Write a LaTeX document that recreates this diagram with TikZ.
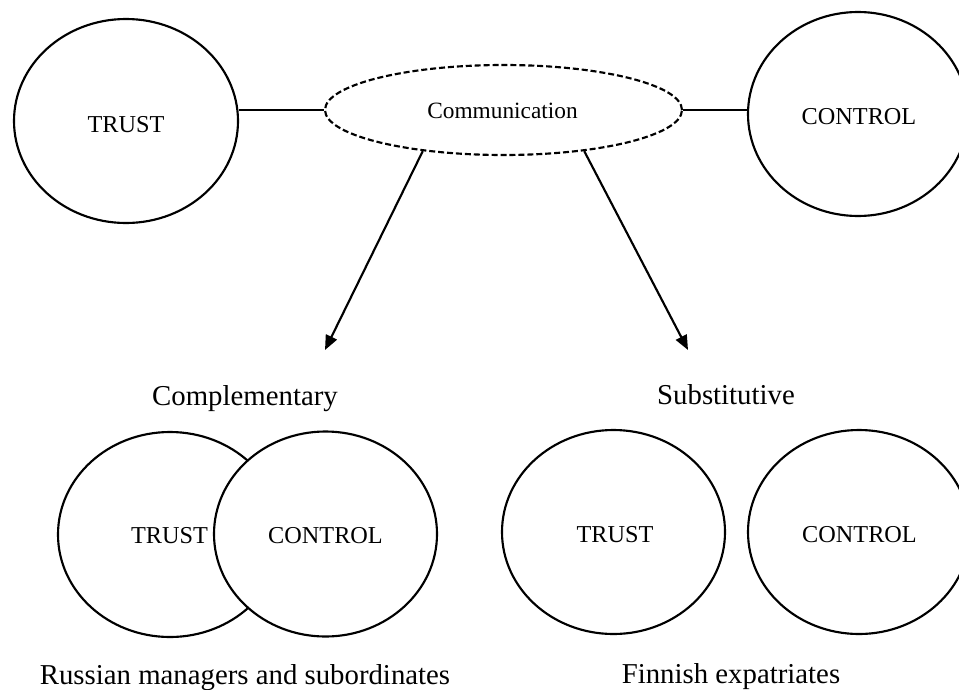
\documentclass[tikz,border=0pt]{standalone}
\usepackage{fontspec}
\setmainfont{Liberation Serif}
\usetikzlibrary{shapes.geometric,arrows.meta}
\begin{document}
\begin{tikzpicture}[x=0.75pt,y=-0.75pt,
  oval/.style={draw=black,ellipse,line width=1.6pt,inner sep=0pt,fill=white},
  lbl/.style={anchor=base,inner sep=0pt,font=\fontsize{18.2pt}{22pt}\selectfont},
  head/.style={anchor=base,inner sep=0pt,font=\fontsize{21.6pt}{26pt}\selectfont},
  link/.style={line width=1.6pt},
  arr/.style={line width=1.6pt,-{Triangle[length=11pt,width=9pt]}}]
\useasboundingbox (0,0) rectangle (959,689);
% top row
\node[oval,minimum width=168pt,minimum height=153pt] (t1) at (126,121) {};
\node[oval,minimum width=165pt,minimum height=153pt] (c1) at (858,114) {};
\node[oval,dash pattern=on 4.5pt off 2.2pt,minimum width=267.75pt,minimum height=67.5pt] (comm) at (503.5,110) {};
\node[lbl] (t1l) at (126,132) {TRUST};
\node[lbl] (c1l) at (859,124) {CONTROL};
\node[anchor=base,inner sep=0pt,font=\fontsize{17.5pt}{21pt}\selectfont] (comml) at (502.5,118) {Communication};
\draw[link] (comm.west) -- (comm.west -| t1.east);
\draw[link] (comm.east) -- (comm.east -| c1.west);
\coordinate (tip1) at (325,350);
\coordinate (tip2) at (688,350);
\draw[arr] (comm.207.9) -- (tip1);
\draw[arr] (comm.333.8) -- (tip2);
% headings
\node[head] (h1) at (245,405) {Complementary};
\node[head] (h2) at (726,404) {Substitutive};
% bottom left
\node[oval,minimum width=168pt,minimum height=153.75pt] (t2) at (170,534.5) {};
\node[oval,minimum width=167.25pt,minimum height=153.75pt] (c2) at (325.5,534) {};
\node[lbl] (t2l) at (169.5,543) {TRUST};
\node[lbl] (c2l) at (325.5,543) {CONTROL};
% bottom right
\node[oval,minimum width=167.25pt,minimum height=153pt] (t3) at (613.5,532) {};
\node[oval,minimum width=166.5pt,minimum height=153pt] (c3) at (859,532) {};
\node[lbl] (t3l) at (615,542) {TRUST};
\node[lbl] (c3l) at (859.5,542) {CONTROL};
% captions
\node[head] (f1) at (245,684) {Russian managers and subordinates};
\node[head] (f2) at (731,683) {Finnish expatriates};
\end{tikzpicture}
\end{document}
